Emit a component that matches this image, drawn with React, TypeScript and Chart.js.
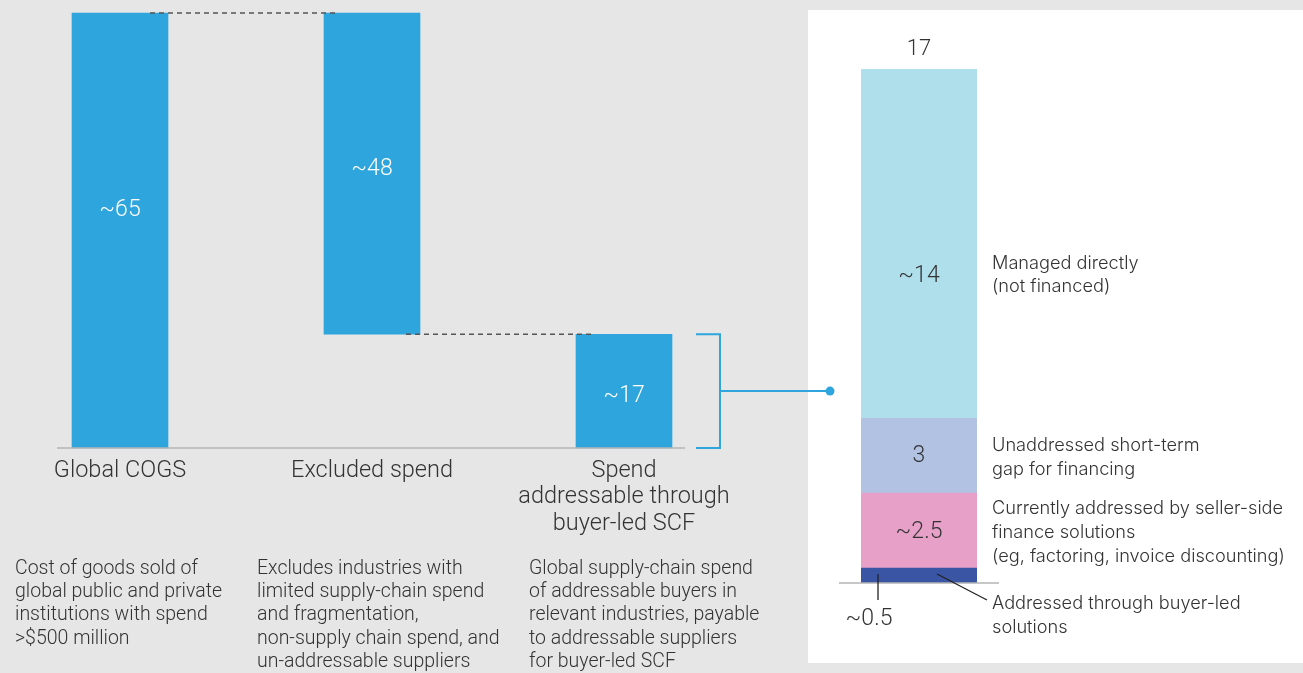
import React, { useEffect, useRef } from "react";
import { Chart, registerables } from "chart.js";

Chart.register(...registerables);

// ---- Left waterfall data ($ trillion) ----
const categories: (string | string[])[] = [
  "Global COGS",
  "Excluded spend",
  ["Spend", "addressable through", "buyer-led SCF"],
];
const barValues = [65, 48, 17];
const barLabels = ["~65", "~48", "~17"];
const descriptions: string[][] = [
  ["Cost of goods sold of", "global public and private", "institutions with spend", ">$500 million"],
  ["Excludes industries with", "limited supply-chain spend", "and fragmentation,", "non-supply chain spend, and", "un-addressable suppliers"],
  ["Global supply-chain spend", "of addressable buyers in", "relevant industries, payable", "to addressable suppliers", "for buyer-led SCF"],
];

// ---- Right stacked breakdown (bottom to top, heights as drawn) ----
const segmentValues = [0.6, 3, 3, 14];
const segmentLabels = ["~0.5", "~2.5", "3", "~14"];
const segmentColors = ["#3b55a5", "#e7a1c8", "#b1c2e3", "#b0dfec"];
const segmentNotes: string[][] = [
  ["Addressed through buyer-led", "solutions"],
  ["Currently addressed by seller-side", "finance solutions", "(eg, factoring, invoice discounting)"],
  ["Unaddressed short-term", "gap for financing"],
  ["Managed directly", "(not financed)"],
];
const breakdownTotalLabel = "17";

const BLUE = "#2ea5dc";
const TEXT = "#333333";
const LEFT_FONT = "Roboto, 'Liberation Sans', sans-serif";
const RIGHT_FONT = "Inter, 'Liberation Sans', sans-serif";

function floatingBars(values: number[]): [number, number][] {
  const out: [number, number][] = [];
  let level = 0;
  values.forEach((v, i) => {
    if (i === 0 || i === values.length - 1) {
      out.push([0, v]);
      level = v;
    } else {
      out.push([level - v, level]);
      level = level - v;
    }
  });
  return out;
}

const leftPlugin = {
  id: "leftDecor",
  afterDatasetsDraw(chart: any) {
    const ctx = chart.ctx;
    const x = chart.scales.x;
    const y = chart.scales.y;
    const bars = floatingBars(barValues);
    const xs = barValues.map((_, i) => x.getPixelForValue(i));
    const y0 = y.getPixelForValue(0);
    ctx.save();
    // baseline
    ctx.strokeStyle = "#b4b4b4";
    ctx.lineWidth = 1.5;
    ctx.beginPath();
    ctx.moveTo(xs[0] - 63, y0);
    ctx.lineTo(xs[2] + 61, y0);
    ctx.stroke();
    // dashed connectors
    ctx.strokeStyle = "#555555";
    ctx.lineWidth = 1.5;
    ctx.setLineDash([5, 4]);
    const yTop = y.getPixelForValue(bars[0][1]);
    ctx.beginPath();
    ctx.moveTo(xs[0] + 30, yTop);
    ctx.lineTo(xs[1] - 34, yTop);
    ctx.stroke();
    const yMid = y.getPixelForValue(bars[1][0]);
    ctx.beginPath();
    ctx.moveTo(xs[1] + 34, yMid);
    ctx.lineTo(xs[2] - 31, yMid);
    ctx.stroke();
    ctx.setLineDash([]);
    // value labels
    const offs = [-20, -4, 5];
    ctx.fillStyle = "#ffffff";
    ctx.font = `300 23px ${LEFT_FONT}`;
    ctx.textAlign = "center";
    ctx.textBaseline = "middle";
    bars.forEach((b, i) => {
      const cy = (y.getPixelForValue(b[0]) + y.getPixelForValue(b[1])) / 2 + offs[i];
      ctx.fillText(barLabels[i], xs[i], cy);
    });
    // bracket
    const bTop = y.getPixelForValue(bars[2][1]);
    const bBot = y.getPixelForValue(bars[2][0]);
    const bx = xs[2] + 96;
    ctx.strokeStyle = BLUE;
    ctx.lineWidth = 2;
    ctx.beginPath();
    ctx.moveTo(xs[2] + 72, bTop);
    ctx.lineTo(bx, bTop);
    ctx.lineTo(bx, bBot);
    ctx.lineTo(xs[2] + 72, bBot);
    ctx.stroke();
    const bm = (bTop + bBot) / 2;
    ctx.beginPath();
    ctx.moveTo(bx, bm);
    ctx.lineTo(xs[2] + 206, bm);
    ctx.stroke();
    ctx.fillStyle = BLUE;
    ctx.beginPath();
    ctx.arc(xs[2] + 206, bm, 4.5, 0, Math.PI * 2);
    ctx.fill();
    // descriptions
    const dx = [-105, -115, -95];
    ctx.fillStyle = TEXT;
    ctx.font = `300 19.5px ${LEFT_FONT}`;
    ctx.textAlign = "left";
    descriptions.forEach((lines, i) => {
      lines.forEach((line, k) => {
        ctx.fillText(line, xs[i] + dx[i], y0 + 121 + k * 23.3);
      });
    });
    ctx.restore();
  },
};

const rightPlugin = {
  id: "rightDecor",
  afterDatasetsDraw(chart: any) {
    const ctx = chart.ctx;
    const x = chart.scales.x;
    const y = chart.scales.y;
    const cx = x.getPixelForValue(0);
    const half = 58;
    const left = cx - half;
    const right = cx + half;
    const y0 = y.getPixelForValue(0);
    let acc = 0;
    const bounds = segmentValues.map((v) => {
      const lo = acc;
      acc += v;
      return [y.getPixelForValue(lo), y.getPixelForValue(acc)];
    });
    const top = y.getPixelForValue(acc);
    ctx.save();
    // baseline
    ctx.strokeStyle = "#b4b4b4";
    ctx.lineWidth = 1.5;
    ctx.beginPath();
    ctx.moveTo(left - 22, y0);
    ctx.lineTo(right + 22, y0);
    ctx.stroke();
    // total
    ctx.fillStyle = TEXT;
    ctx.textAlign = "center";
    ctx.textBaseline = "middle";
    ctx.font = `300 22px ${LEFT_FONT}`;
    ctx.fillText(breakdownTotalLabel, cx, top - 20);
    // segment labels (inside for three largest)
    ctx.font = `300 23px ${LEFT_FONT}`;
    const inOff = [0, 2, 1, 33];
    for (let i = 1; i < segmentValues.length; i++) {
      const m = (bounds[i][0] + bounds[i][1]) / 2 + inOff[i];
      ctx.fillText(segmentLabels[i], cx, m);
    }
    // smallest segment: leader down + label
    ctx.strokeStyle = "#222222";
    ctx.lineWidth = 1.3;
    ctx.beginPath();
    ctx.moveTo(left + 17, bounds[0][1] + 6);
    ctx.lineTo(left + 17, y0 + 17);
    ctx.stroke();
    ctx.fillText(segmentLabels[0], left + 8, y0 + 36);
    // diagonal leader
    ctx.beginPath();
    ctx.moveTo(left + 76, bounds[0][1] + 6);
    ctx.lineTo(right + 10, y0 + 17);
    ctx.stroke();
    // side notes
    const noteOff = [40, 2, 2, 31.5];
    ctx.textAlign = "left";
    ctx.font = `300 18.2px ${RIGHT_FONT}`;
    segmentNotes.forEach((lines, i) => {
      const m = (bounds[i][0] + bounds[i][1]) / 2 + noteOff[i];
      const start = m - ((lines.length - 1) * 23.7) / 2;
      lines.forEach((line, k) => {
        ctx.fillText(line, right + 15, start + k * 23.7);
      });
    });
    ctx.restore();
  },
};

export default function App() {
  const leftRef = useRef<HTMLCanvasElement>(null);
  const rightRef = useRef<HTMLCanvasElement>(null);

  useEffect(() => {
    const left = new Chart(leftRef.current!, {
      type: "bar",
      data: {
        labels: categories as any,
        datasets: [
          {
            data: floatingBars(barValues) as any,
            backgroundColor: BLUE,
            barThickness: 96,
            clip: false as any,
          },
        ],
      },
      options: {
        animation: false,
        responsive: false,
        maintainAspectRatio: false,
        layout: { padding: { left: 120, right: 226, top: 13, bottom: 0 } },
        plugins: { legend: { display: false }, tooltip: { enabled: false } },
        scales: {
          x: {
            type: "category",
            offset: false,
            grid: { display: false, drawTicks: false },
            border: { display: false },
            ticks: {
              autoSkip: false,
              maxRotation: 0,
              padding: 10,
              color: TEXT,
              font: { family: LEFT_FONT, size: 23.5, weight: "300" as any, lineHeight: 1.12 },
            },
            afterFit: (s: any) => {
              s.height = 225;
            },
          },
          y: { display: false, min: 0, max: 65 },
        },
      },
      plugins: [leftPlugin],
    });

    const right = new Chart(rightRef.current!, {
      type: "bar",
      data: {
        labels: ["Breakdown"],
        datasets: segmentValues.map((v, i) => ({
          data: [v],
          backgroundColor: segmentColors[i],
          barThickness: 116,
          stack: "s",
        })),
      },
      options: {
        animation: false,
        responsive: false,
        maintainAspectRatio: false,
        layout: { padding: { left: 53, right: 326, top: 59, bottom: 80 } },
        plugins: { legend: { display: false }, tooltip: { enabled: false } },
        scales: {
          x: { display: false, stacked: true },
          y: {
            display: false,
            stacked: true,
            min: 0,
            max: segmentValues.reduce((a, b) => a + b, 0),
          },
        },
      },
      plugins: [rightPlugin],
    });

    return () => {
      left.destroy();
      right.destroy();
    };
  }, []);

  return (
    <div
      style={{
        position: "fixed",
        left: 0,
        top: 0,
        width: 1303,
        height: 673,
        background: "#e6e6e6",
        overflow: "hidden",
      }}
    >
      <div
        style={{
          position: "absolute",
          left: 808,
          top: 10,
          width: 495,
          height: 653,
          background: "#ffffff",
        }}
      >
        <canvas ref={rightRef} width={495} height={653} style={{ width: 495, height: 653, display: "block" }} />
      </div>
      <canvas
        ref={leftRef}
        width={850}
        height={673}
        style={{ position: "absolute", left: 0, top: 0, width: 850, height: 673, pointerEvents: "none" }}
      />
    </div>
  );
}
